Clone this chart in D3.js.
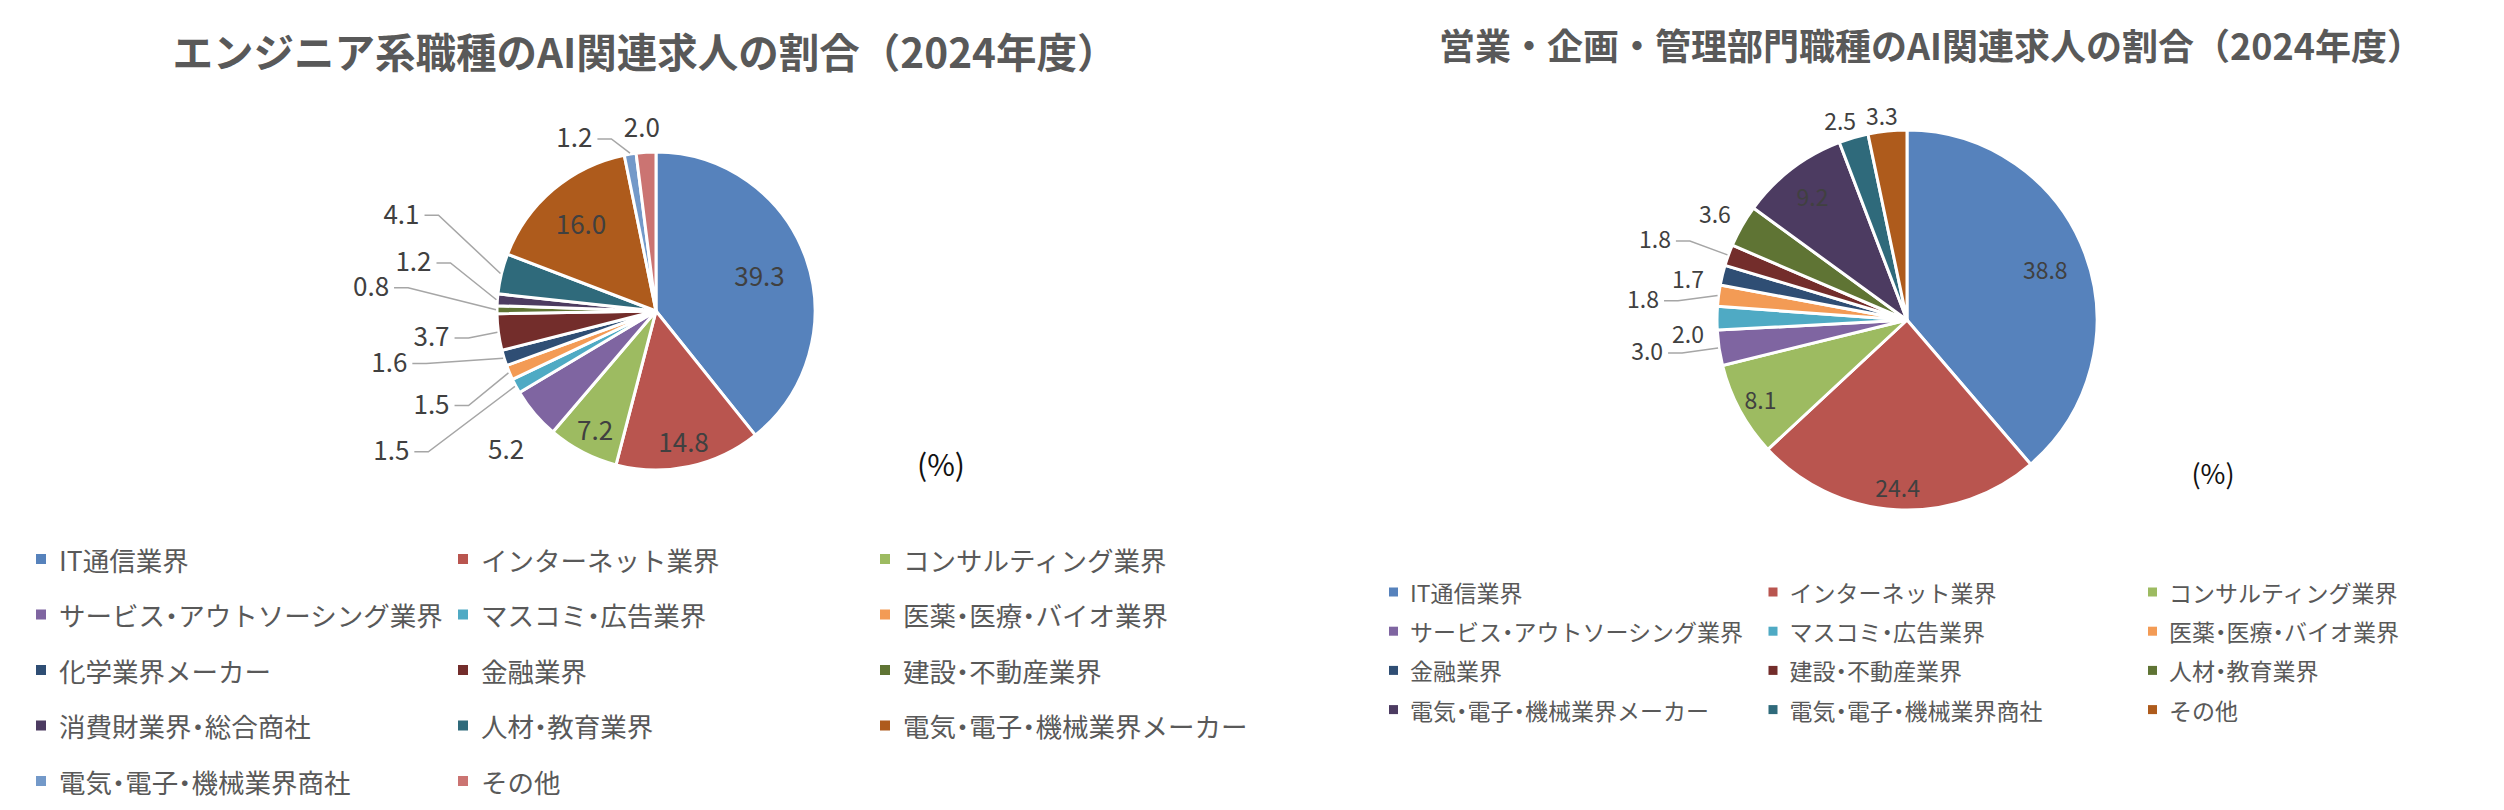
<!DOCTYPE html>
<html><head><meta charset="utf-8">
<script src="https://cdn.jsdelivr.net/npm/d3@7"></script>
<style>
html,body{margin:0;padding:0;background:#fff;}
svg{display:block;font-family:"Noto Sans CJK JP","Noto Sans",sans-serif;}
.legend text{font-feature-settings:"halt";}
</style></head><body>
<svg id="chart" width="2504" height="810"></svg>
<script>
// ---------- data ----------
const leftTitle = "エンジニア系職種のAI関連求人の割合（2024年度）";
const leftCategories = ["IT通信業界","インターネット業界","コンサルティング業界","サービス・アウトソーシング業界","マスコミ・広告業界","医薬・医療・バイオ業界","化学業界メーカー","金融業界","建設・不動産業界","消費財業界・総合商社","人材・教育業界","電気・電子・機械業界メーカー","電気・電子・機械業界商社","その他"];
const leftValues = [39.3,14.8,7.2,5.2,1.5,1.5,1.6,3.7,0.8,1.2,4.1,16.0,1.2,2.0];

const rightTitle = "営業・企画・管理部門職種のAI関連求人の割合（2024年度）";
const rightCategories = ["IT通信業界","インターネット業界","コンサルティング業界","サービス・アウトソーシング業界","マスコミ・広告業界","医薬・医療・バイオ業界","金融業界","建設・不動産業界","人材・教育業界","電気・電子・機械業界メーカー","電気・電子・機械業界商社","その他"];
const rightValues = [38.8,24.4,8.1,3.0,2.0,1.8,1.7,1.8,3.6,9.2,2.5,3.3];

const unitLabel = "(%)";
const palette = ["#5682BC","#B9554F","#9DBB61","#7F65A1","#4FAAC4","#F39B55","#2F4E74","#732D2B","#5F7434","#4C3B61","#2F6A7B","#AE5B1C","#7399C9","#CB7472"];

// ---------- layout (positions / styles) ----------
const leftLayout = {cx:656, cy:311, R:159, titleX:645, titleY:50, titleSize:40.5, labelSize:26,
  unitDX:285, unitDY:152, unitSize:30,
  legendX:36, legendY:559, legendColW:422, legendRowH:55.5, legendSize:26.5, swatch:10, legendTextGap:23};
const rightLayout = {cx:1907, cy:320, R:190, titleX:1931, titleY:44, titleSize:36, labelSize:23,
  unitDX:306, unitDY:152, unitSize:27,
  legendX:1389, legendY:592, legendColW:379.5, legendRowH:39.2, legendSize:23, swatch:9, legendTextGap:21};

// label placement: inside at radius factor, or outside at polar angle (deg, clockwise from top) and radius factor
const leftLabelPlacement = [
  {mode:"in", r:0.69},
  {mode:"in", r:0.83},
  {mode:"in", r:0.83},
  {mode:"out", a:227.6, r:1.277, leader:false},
  {mode:"out", a:242.5, r:1.877, leader:true},
  {mode:"out", a:247.8, r:1.525, leader:true},
  {mode:"out", a:259.5, r:1.706, leader:true},
  {mode:"out", a:263.9, r:1.42, leader:true},
  {mode:"out", a:275.25, r:1.80, leader:true},
  {mode:"out", a:281.9, r:1.559, leader:true},
  {mode:"out", a:291.2, r:1.717, leader:true},
  {mode:"in", r:0.73},
  {mode:"out", a:335, r:1.215, leader:true},
  {mode:"out", a:355.6, r:1.168, leader:false}
];
const rightLabelPlacement = [
  {mode:"in", r:0.776},
  {mode:"in", r:0.88},
  {mode:"in", r:0.876},
  {mode:"out", a:263.4, r:1.377, leader:true},
  {mode:"out", a:266.6, r:1.155, leader:false},
  {mode:"out", a:274.8, r:1.394, leader:true},
  {mode:"out", a:280.9, r:1.174, leader:false},
  {mode:"out", a:288, r:1.395, leader:true},
  {mode:"out", a:299.1, r:1.157, leader:false},
  {mode:"in", r:0.82},
  {mode:"out", a:341.5, r:1.11, leader:false},
  {mode:"out", a:353, r:1.087, leader:false}
];

const svg = d3.select("#chart");
svg.append("rect").attr("width",2504).attr("height",810).attr("fill","#fff");

function polar(a, r){ return [r*Math.sin(a), -r*Math.cos(a)]; }

function drawPie(cats, vals, L, placement, title){
  const g = svg.append("g");
  g.append("text").attr("x",L.titleX).attr("y",L.titleY)
    .attr("text-anchor","middle").attr("dominant-baseline","central")
    .attr("font-size",L.titleSize).attr("font-weight",700).attr("fill","#595959").text(title);

  const color = d3.scaleOrdinal().domain(cats).range(palette);
  const pie = d3.pie().sort(null).value(d=>d.v);
  const data = pie(cats.map((c,i)=>({c, v:vals[i]})));
  const arc = d3.arc().innerRadius(0).outerRadius(L.R);
  const pg = g.append("g").attr("transform",`translate(${L.cx},${L.cy})`);
  pg.selectAll("path.slice").data(data).join("path").attr("class","slice")
    .attr("d",arc).attr("fill",d=>color(d.data.c))
    .attr("stroke","#fff").attr("stroke-width",3).attr("stroke-linejoin","round");

  const fmt = d3.format(".1f");
  data.forEach((d,i)=>{
    const p = placement[i];
    const mid = (d.startAngle+d.endAngle)/2;
    const pos = p.mode==="in" ? polar(mid, p.r*L.R) : polar(p.a*Math.PI/180, p.r*L.R);
    const t = pg.append("text").attr("x",pos[0]).attr("y",pos[1])
      .attr("text-anchor","middle").attr("dominant-baseline","central")
      .attr("font-size",L.labelSize).attr("fill","#404040").text(fmt(d.data.v));
    if(p.leader){
      const w = t.node().getComputedTextLength();
      const sx = pos[0]+w/2+5, sy = pos[1]+3;
      const e = polar(mid, L.R+1);
      pg.append("path").attr("d", d3.line()([[sx,sy],[sx+14,sy],e]))
        .attr("fill","none").attr("stroke","#A6A6A6").attr("stroke-width",1.5);
    }
  });

  pg.append("text").attr("x",L.unitDX).attr("y",L.unitDY)
    .attr("text-anchor","middle").attr("dominant-baseline","central")
    .attr("font-size",L.unitSize).attr("fill","#111").text(unitLabel);

  const lg = g.append("g").attr("class","legend");
  const items = lg.selectAll("g").data(cats).join("g")
    .attr("transform",(c,i)=>`translate(${L.legendX + (i%3)*L.legendColW},${L.legendY + Math.floor(i/3)*L.legendRowH})`);
  items.append("rect").attr("x",0).attr("y",-L.swatch/2).attr("width",L.swatch).attr("height",L.swatch)
    .attr("fill",c=>color(c));
  items.append("text").attr("x",L.legendTextGap).attr("y",0).attr("dominant-baseline","central")
    .attr("font-size",L.legendSize).attr("fill","#595959").text(c=>c);
}

drawPie(leftCategories, leftValues, leftLayout, leftLabelPlacement, leftTitle);
drawPie(rightCategories, rightValues, rightLayout, rightLabelPlacement, rightTitle);
</script>
</body></html>
